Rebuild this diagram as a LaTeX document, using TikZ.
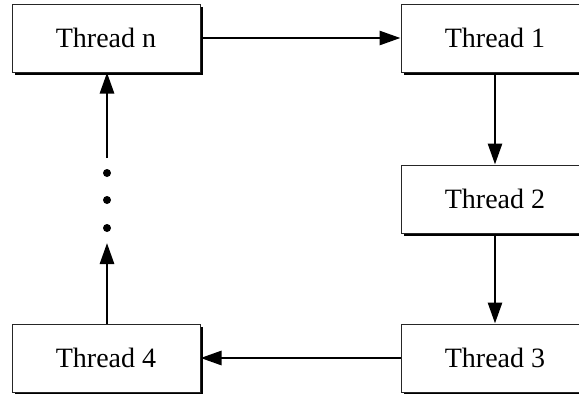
\documentclass[tikz,border=0pt]{standalone}
\usepackage{fontspec}
\setmainfont{Liberation Serif}
\usepackage{tikz}
\usetikzlibrary{arrows.meta,shadows,positioning}

\begin{document}
\begin{tikzpicture}[
    x=1pt, y=-1pt,
    thread/.style={rectangle, draw=black!85, line width=1pt, fill=white, minimum width=188pt, minimum height=68pt, inner sep=0pt, font=\fontsize{28}{32}\selectfont, drop shadow={shadow xshift=3pt, shadow yshift=-3pt, fill=black, opacity=1}},
    link/.style={line width=2.8pt, -{Triangle[length=21pt, width=14pt]}},
    dot/.style={circle, fill=black, inner sep=0pt, minimum size=8pt}
]
    \useasboundingbox (0,0) rectangle (579,394);

    \node[thread] (Tn) at (106, 38) {Thread n};
    \node[thread] (T1) at (495, 38) {Thread 1};
    \node[thread] (T2) at (495, 199) {Thread 2};
    \node[thread] (T3) at (495, 358) {Thread 3};
    \node[thread] (T4) at (106, 358) {Thread 4};

    \foreach \k/\y in {1/173, 2/200, 3/228} {
        \node[dot] (D\k) at (107, \y) {};
    }
    \coordinate (up4) at (107, 243);
    \coordinate (upn) at (107, 158);

    \draw[link] (Tn) -- (T1);
    \draw[link] (T1) -- (T2);
    \draw[link] (T2) -- (T3);
    \draw[link] (T3) -- (T4);
    \draw[link] (T4.north -| up4) -- (up4);
    \draw[link] (upn) -- (Tn.south -| upn);

\end{tikzpicture}
\end{document}
